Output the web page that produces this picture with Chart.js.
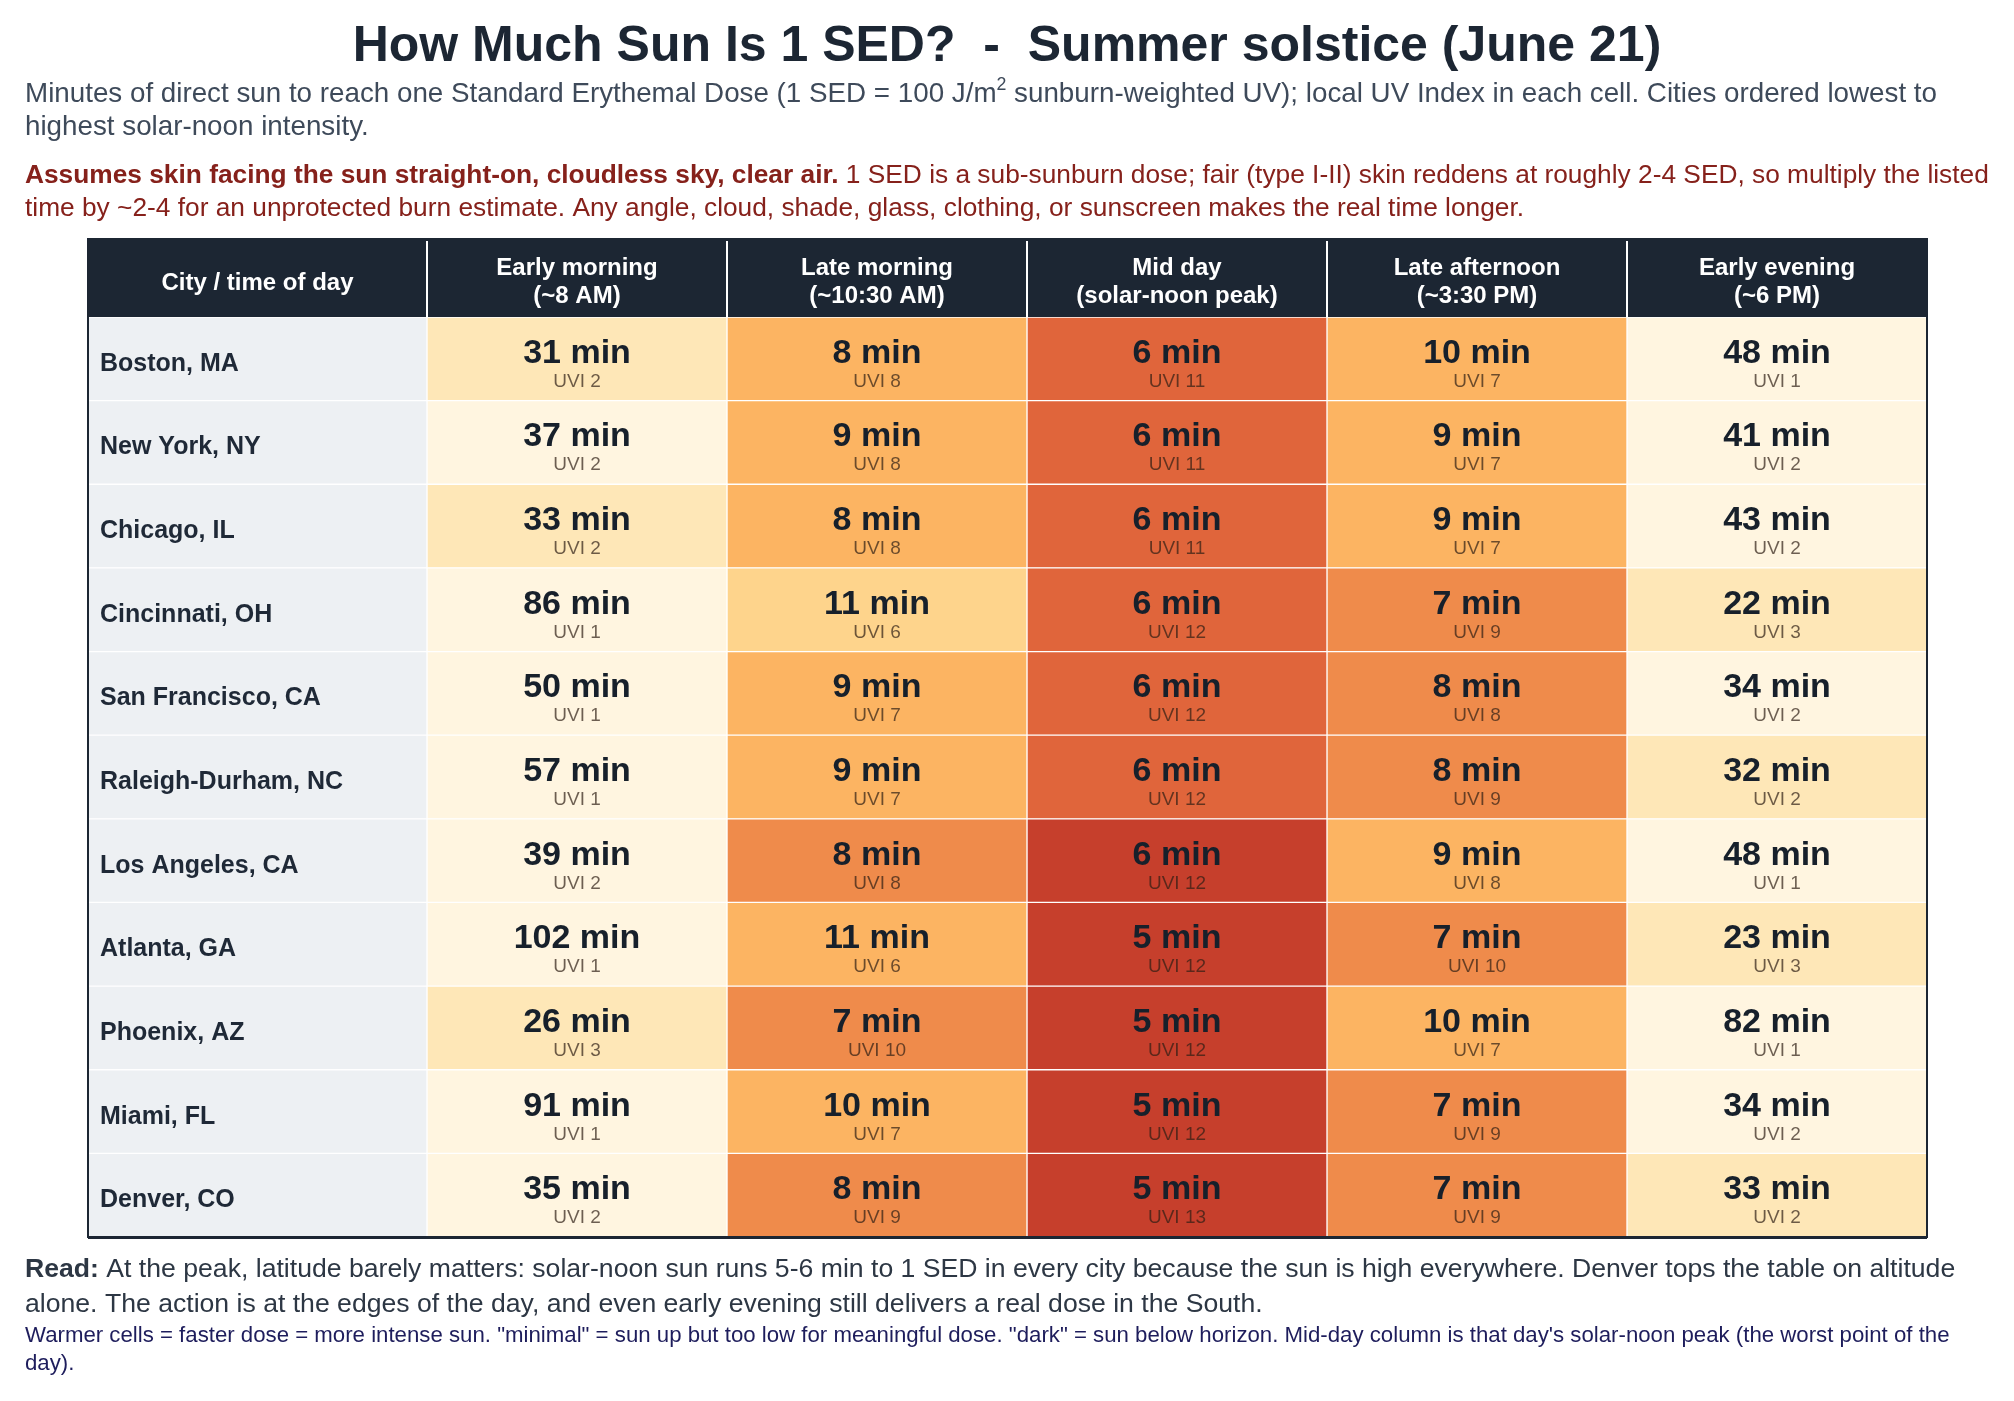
<!DOCTYPE html>
<html>
<head>
<meta charset="utf-8">
<script src="https://cdn.jsdelivr.net/npm/chart.js@4/dist/chart.umd.min.js"></script>
<style>
  html, body { margin: 0; padding: 0; background: #ffffff; }
  #chart { display: block; }
</style>
</head>
<body>
<canvas id="chart" width="2014" height="1401" style="width:2014px;height:1401px"></canvas>
<script>
var cities = ['Boston, MA', 'New York, NY', 'Chicago, IL', 'Cincinnati, OH', 'San Francisco, CA',
  'Raleigh-Durham, NC', 'Los Angeles, CA', 'Atlanta, GA', 'Phoenix, AZ', 'Miami, FL', 'Denver, CO'];

var colTitles = ['Early morning', 'Late morning', 'Mid day', 'Late afternoon', 'Early evening'];
var colTimes = ['(~8 AM)', '(~10:30 AM)', '(solar-noon peak)', '(~3:30 PM)', '(~6 PM)'];

// minuti per 1 SED
var earlyMorningMin = [31, 37, 33, 86, 50, 57, 39, 102, 26, 91, 35];
var lateMorningMin = [8, 9, 8, 11, 9, 9, 8, 11, 7, 10, 8];
var midDayMin = [6, 6, 6, 6, 6, 6, 6, 5, 5, 5, 5];
var lateAfternoonMin = [10, 9, 9, 7, 8, 8, 9, 7, 10, 7, 7];
var earlyEveningMin = [48, 41, 43, 22, 34, 32, 48, 23, 82, 34, 33];

// indice UV
var earlyMorningUvi = [2, 2, 2, 1, 1, 1, 2, 1, 3, 1, 2];
var lateMorningUvi = [8, 8, 8, 6, 7, 7, 8, 6, 10, 7, 9];
var midDayUvi = [11, 11, 11, 12, 12, 12, 12, 12, 12, 12, 13];
var lateAfternoonUvi = [7, 7, 7, 9, 8, 9, 8, 10, 7, 9, 9];
var earlyEveningUvi = [1, 2, 2, 3, 2, 2, 1, 3, 1, 2, 2];

// classe di colore di ogni cella (0 = piu chiaro, 6 = piu caldo)
var earlyMorningLevel = [1, 0, 1, 0, 0, 0, 0, 0, 1, 0, 0];
var lateMorningLevel = [3, 3, 3, 2, 3, 3, 4, 3, 4, 3, 4];
var midDayLevel = [5, 5, 5, 5, 5, 5, 6, 6, 6, 6, 6];
var lateAfternoonLevel = [3, 3, 3, 4, 4, 4, 3, 4, 3, 4, 4];
var earlyEveningLevel = [0, 0, 0, 1, 0, 1, 0, 1, 0, 0, 1];

var minutesCols = [earlyMorningMin, lateMorningMin, midDayMin, lateAfternoonMin, earlyEveningMin];
var uviCols = [earlyMorningUvi, lateMorningUvi, midDayUvi, lateAfternoonUvi, earlyEveningUvi];
var levelCols = [earlyMorningLevel, lateMorningLevel, midDayLevel, lateAfternoonLevel, earlyEveningLevel];

var palette = ['#fff5e0', '#fee7b7', '#fed48c', '#fcb462', '#ef8b4b', '#e0653b', '#c63f2c'];
var FONT = '"Liberation Sans", Arial, Helvetica, sans-serif';
var DARK = '#1c2633';
var CITY_W = 1.13; // larghezza colonna citta in unita di colonna

function init() {
  var datasets = [];

  // colonna citta
  datasets.push({
    label: 'city',
    data: cities.map(function () { return [-CITY_W, 0]; }),
    backgroundColor: '#edf0f3'
  });

  for (var c = 0; c < colTitles.length; c++) {
    var colors = [];
    var bars = [];
    for (var r = 0; r < cities.length; r++) {
      colors.push(palette[levelCols[c][r]]);
      bars.push([c, c + 1]);
    }
    datasets.push({
      label: colTitles[c],
      data: bars,
      backgroundColor: colors
    });
  }

  datasets.forEach(function (ds) {
    ds.grouped = false;
    ds.borderColor = '#ffffff';
    ds.borderWidth = 1;
    ds.borderSkipped = false;
    ds.barPercentage = 1;
    ds.categoryPercentage = 1;
  });

  new Chart(document.getElementById('chart'), {
    type: 'bar',
    data: { labels: cities, datasets: datasets },
    plugins: [tablePlugin],
    options: {
      indexAxis: 'y',
      responsive: false,
      devicePixelRatio: 1,
      animation: false,
      layout: { padding: { left: 88, right: 87, top: 317, bottom: 164 } },
      scales: {
        x: { type: 'linear', min: -CITY_W, max: colTitles.length, display: false },
        y: { type: 'category', display: false }
      },
      plugins: {
        legend: { display: false },
        tooltip: { enabled: false },
        title: { display: false }
      }
    }
  });
}

function fontOf(run, k) {
  return (run.bold ? 'bold ' : '') + (run.size * k) + 'px ' + FONT;
}

// fattore di scala perche la riga occupi la larghezza voluta
function fitScale(ctx, runs, width) {
  var w = 0;
  for (var i = 0; i < runs.length; i++) {
    ctx.font = fontOf(runs[i], 1);
    w += ctx.measureText(runs[i].text).width;
  }
  return width / w;
}

// scrive una riga composta da pezzi con stili diversi
function drawRuns(ctx, runs, x, y, k) {
  for (var i = 0; i < runs.length; i++) {
    var run = runs[i];
    ctx.font = fontOf(run, k);
    ctx.fillStyle = run.color;
    ctx.fillText(run.text, x, run.sup ? y - run.sup * k : y);
    x += ctx.measureText(run.text).width;
  }
}

var tablePlugin = {
  id: 'tablePlugin',
  afterDatasetsDraw: function (chart) {
    var ctx = chart.ctx;
    var xs = chart.scales.x;
    var ys = chart.scales.y;
    var area = chart.chartArea;
    var left = area.left, right = area.right;
    var headTop = 239, headBottom = area.top;
    var k;

    ctx.save();
    ctx.textBaseline = 'alphabetic';

    // titolo
    ctx.fillStyle = DARK;
    ctx.textAlign = 'center';
    ctx.font = 'bold 50px ' + FONT;
    ctx.fillText('How Much Sun Is 1 SED?  -  Summer solstice (June 21)', 1007, 61);

    // sottotitolo
    ctx.textAlign = 'left';
    var subCol = '#3e4a5a';
    var sub1 = [
      { text: 'Minutes of direct sun to reach one Standard Erythemal Dose (1 SED = 100 J/m', size: 25, color: subCol },
      { text: '2', size: 16, color: subCol, sup: 11 },
      { text: ' sunburn-weighted UV); local UV Index in each cell. Cities ordered lowest to', size: 25, color: subCol }
    ];
    k = fitScale(ctx, sub1, 1913);
    drawRuns(ctx, sub1, 25, 102, k);
    drawRuns(ctx, [{ text: 'highest solar-noon intensity.', size: 25, color: subCol }], 25, 135, k);

    // avvertenza in rosso
    var red = '#86211b';
    var red1 = [
      { text: 'Assumes skin facing the sun straight-on, cloudless sky, clear air.', size: 24, bold: true, color: red },
      { text: ' 1 SED is a sub-sunburn dose; fair (type I-II) skin reddens at roughly 2-4 SED, so multiply the listed', size: 24, color: red }
    ];
    k = fitScale(ctx, red1, 1965);
    drawRuns(ctx, red1, 25, 183, k);
    drawRuns(ctx, [
      { text: 'time by ~2-4 for an unprotected burn estimate. Any angle, cloud, shade, glass, clothing, or sunscreen makes the real time longer.', size: 24, color: red }
    ], 25, 216, k);

    // intestazione della tabella
    ctx.fillStyle = DARK;
    ctx.fillRect(left, headTop, right - left, headBottom - headTop);
    ctx.fillStyle = '#ffffff';
    ctx.textAlign = 'center';
    ctx.font = 'bold 24px ' + FONT;
    ctx.fillText('City / time of day', (xs.getPixelForValue(-CITY_W) + xs.getPixelForValue(0)) / 2, 290);
    for (var c = 0; c < colTitles.length; c++) {
      var cx = xs.getPixelForValue(c + 0.5);
      ctx.fillText(colTitles[c], cx, 275);
      ctx.fillText(colTimes[c], cx, 303);
    }
    ctx.strokeStyle = '#ffffff';
    ctx.lineWidth = 2;
    for (var b = 0; b < colTitles.length; b++) {
      var bx = Math.round(xs.getPixelForValue(b));
      ctx.beginPath();
      ctx.moveTo(bx, headTop + 2);
      ctx.lineTo(bx, headBottom);
      ctx.stroke();
    }

    // testi delle celle
    for (var r = 0; r < cities.length; r++) {
      var cy = ys.getPixelForValue(r);
      ctx.textAlign = 'left';
      ctx.fillStyle = '#1f2937';
      ctx.font = 'bold 25px ' + FONT;
      ctx.fillText(cities[r], left + 12, cy + 12);

      ctx.textAlign = 'center';
      for (var j = 0; j < colTitles.length; j++) {
        var x = xs.getPixelForValue(j + 0.5);
        ctx.fillStyle = '#17202b';
        ctx.font = 'bold 34px ' + FONT;
        ctx.fillText(minutesCols[j][r] + ' min', x, cy + 4);
        ctx.fillStyle = 'rgba(45, 30, 20, 0.7)';
        ctx.font = '19px ' + FONT;
        ctx.fillText('UVI ' + uviCols[j][r], x, cy + 28);
      }
    }

    // bordo della tabella
    ctx.strokeStyle = DARK;
    ctx.lineWidth = 2;
    ctx.strokeRect(left, headTop, right - left, area.bottom - headTop);
    ctx.fillStyle = DARK;
    ctx.fillRect(left, area.bottom - 1, right - left, 3);

    // nota in fondo
    ctx.textAlign = 'left';
    var footCol = '#2d3744';
    var foot1 = [
      { text: 'Read:', size: 24, bold: true, color: footCol },
      { text: ' At the peak, latitude barely matters: solar-noon sun runs 5-6 min to 1 SED in every city because the sun is high everywhere. Denver tops the table on altitude', size: 24, color: footCol }
    ];
    k = fitScale(ctx, foot1, 1931);
    drawRuns(ctx, foot1, 25, 1277, k);
    drawRuns(ctx, [
      { text: 'alone. The action is at the edges of the day, and even early evening still delivers a real dose in the South.', size: 24, color: footCol }
    ], 25, 1312, k);

    var navy = '#1e1d5c';
    var note1 = [
      { text: 'Warmer cells = faster dose = more intense sun. "minimal" = sun up but too low for meaningful dose. "dark" = sun below horizon. Mid-day column is that day\'s solar-noon peak (the worst point of the', size: 18, color: navy }
    ];
    k = fitScale(ctx, note1, 1925);
    drawRuns(ctx, note1, 25, 1342, k);
    drawRuns(ctx, [{ text: 'day).', size: 18, color: navy }], 25, 1370, k);

    ctx.restore();
  }
};

init();
</script>
</body>
</html>
